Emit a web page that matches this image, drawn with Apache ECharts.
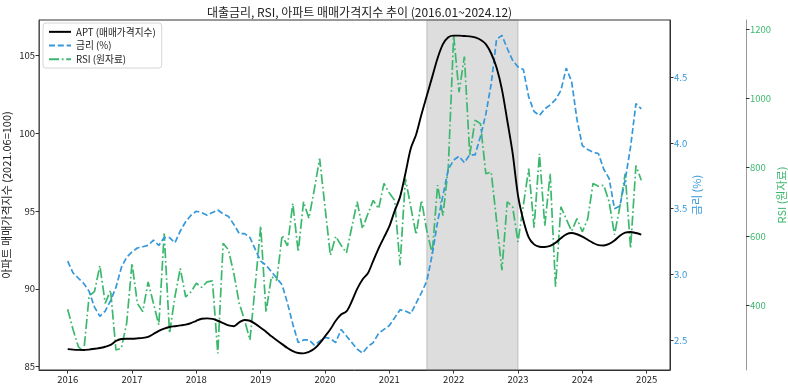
<!DOCTYPE html>
<html><head><meta charset="utf-8">
<script src="https://cdn.jsdelivr.net/npm/echarts@6/dist/echarts.min.js"></script>
<style>html,body{margin:0;padding:0;background:#fff}#c{width:788px;height:384px}</style>
</head><body><div id="c"></div>
<script>
// Monthly data 2016.01 ~ 2024.12
const startYear = 2016;
const apt = [86.13,86.1,86.08,86.07,86.1,86.15,86.2,86.28,86.4,86.65,86.78,86.8,
86.8,86.82,86.85,86.92,87.1,87.3,87.45,87.55,87.6,87.65,87.7,87.8,
87.95,88.08,88.1,88.07,87.95,87.8,87.65,87.6,87.85,88.0,87.95,87.75,
87.5,87.25,86.95,86.7,86.45,86.2,86.0,85.88,85.86,85.95,86.15,86.5,
86.95,87.4,87.95,88.35,88.55,89.2,90.0,90.6,91.0,91.8,92.6,93.3,
94.0,95.0,95.9,97.4,99.0,99.9,101.2,102.4,103.6,104.8,105.7,106.15,
106.25,106.25,106.22,106.2,106.13,105.98,105.7,105.1,104.2,102.8,100.8,98.7,
96.0,94.4,93.3,92.85,92.7,92.68,92.75,92.95,93.25,93.5,93.58,93.5,
93.35,93.15,92.95,92.8,92.78,92.88,93.1,93.4,93.6,93.65,93.58,93.48];
const rate = [3.10,3.01,2.97,2.93,2.87,2.75,2.68,2.72,2.80,2.90,3.05,3.13,
3.17,3.20,3.21,3.22,3.26,3.22,3.28,3.28,3.24,3.33,3.40,3.45,
3.48,3.47,3.45,3.47,3.49,3.46,3.44,3.38,3.31,3.31,3.28,3.19,
3.10,3.07,3.02,2.97,2.92,2.78,2.62,2.48,2.50,2.50,2.46,2.49,
2.52,2.51,2.48,2.58,2.53,2.48,2.43,2.40,2.45,2.48,2.55,2.58,
2.61,2.67,2.73,2.72,2.70,2.78,2.86,2.95,3.15,3.40,3.60,3.80,
3.87,3.90,3.85,3.91,3.91,4.05,4.22,4.45,4.79,4.82,4.72,4.63,
4.58,4.56,4.35,4.24,4.21,4.26,4.29,4.33,4.40,4.57,4.47,4.18,
3.98,3.95,3.93,3.92,3.80,3.73,3.50,3.52,3.72,3.97,4.30,4.26];
const rsi = [389,330,280,266,428,440,515,406,444,271,276,348,
522,406,382,468,406,343,608,319,425,507,425,439,
464,452,468,471,261,580,560,492,406,357,300,460,
630,380,483,473,603,572,695,555,700,652,735,825,
685,545,600,574,552,627,700,622,665,704,680,753,
725,704,516,767,685,605,704,615,550,748,660,800,
1181,1017,1120,836,936,926,781,786,646,502,700,685,
584,690,796,625,839,630,781,454,685,650,615,651,
613,650,753,745,748,700,605,685,781,565,805,762];
const xTicks = [2016,2017,2018,2019,2020,2021,2022,2023,2024,2025];
const aptTicks = [85,90,95,100,105];
const rateTicks = [2.5,3.0,3.5,4.0,4.5];
const rsiTicks = [400,600,800,1000,1200];
const shadeRange = [2021 + 7/12, 2023];

const tOf = i => startYear + i / 12;
const pairs = arr => arr.map((v, i) => [tOf(i), v]);

const BLUE = '#3498db', GREEN = '#3cb86e';
const FONT = '"Noto Sans CJK KR", "Noto Sans", sans-serif';

const chart = echarts.init(document.getElementById('c'), null, {renderer: 'canvas'});
chart.setOption({
  animation: false,
  backgroundColor: '#fff',
  textStyle: {fontFamily: FONT},
  title: {
    text: '대출금리, RSI, 아파트 매매가격지수 추이 (2016.01~2024.12)',
    left: 354.5, textAlign: 'center', top: 1,
    textStyle: {fontSize: 12, fontWeight: 'normal', color: '#222', fontFamily: FONT}
  },
  legend: {
    left: 43, top: 23, orient: 'vertical',
    itemWidth: 22, itemHeight: 10, itemGap: 4,
    padding: [4, 6, 4, 5],
    backgroundColor: 'rgba(255,255,255,0.85)',
    borderColor: '#d6d6d6', borderWidth: 1, borderRadius: 3,
    itemStyle: {opacity: 0, borderWidth: 0},
    textStyle: {fontSize: 9.7, color: '#222', fontFamily: FONT},
    data: ['APT (매매가격지수)', '금리 (%)', 'RSI (원자료)']
  },
  grid: {
    left: 39, right: 118, top: 20, bottom: 14,
    outerBoundsMode: 'none', containLabel: false,
    show: true, borderColor: '#333', borderWidth: 1, backgroundColor: 'transparent'
  },
  xAxis: {
    type: 'value', min: 2015.554, max: 2025.363,
    splitLine: {show: false},
    axisLine: {show: true, lineStyle: {color: '#333'}},
    axisTick: {show: true, length: 3.5, customValues: xTicks, lineStyle: {color: '#333'}},
    axisLabel: {customValues: xTicks, fontSize: 9.5, color: '#222', margin: 5,
      formatter: v => String(Math.round(v))}
  },
  yAxis: [
    {
      type: 'value', position: 'left', min: 84.79, max: 107.25,
      name: '아파트 매매가격지수 (2021.06=100)', nameLocation: 'middle', nameRotate: 90, nameGap: 27,
      nameMoveOverlap: false,
      nameTextStyle: {fontSize: 11, color: '#222', fontFamily: FONT},
      splitLine: {show: false},
      axisLine: {show: true, lineStyle: {color: '#555'}},
      axisTick: {show: true, length: 3.5, customValues: aptTicks, lineStyle: {color: '#333'}},
      axisLabel: {customValues: aptTicks, fontSize: 9.5, color: '#222', margin: 4,
        formatter: v => String(v)}
    },
    {
      type: 'value', position: 'right', offset: 0, min: 2.271, max: 4.937,
      name: '금리 (%)', nameLocation: 'middle', nameRotate: 90, nameGap: 21,
      nameMoveOverlap: false,
      nameTextStyle: {fontSize: 11, color: BLUE, fontFamily: FONT},
      splitLine: {show: false},
      axisLine: {show: true, lineStyle: {color: '#333'}},
      axisTick: {show: true, length: 3.5, customValues: rateTicks, lineStyle: {color: '#333'}},
      axisLabel: {customValues: rateTicks, fontSize: 9.5, color: BLUE, margin: 4,
        formatter: v => v.toFixed(1)}
    },
    {
      type: 'value', position: 'right', offset: 76, min: 213, max: 1226,
      name: 'RSI (원자료)', nameLocation: 'middle', nameRotate: 90, nameGap: 30,
      nameMoveOverlap: false,
      nameTextStyle: {fontSize: 11, color: GREEN, fontFamily: FONT},
      splitLine: {show: false},
      axisLine: {show: true, lineStyle: {color: '#999'}},
      axisTick: {show: true, length: 3.5, customValues: rsiTicks, lineStyle: {color: '#333'}},
      axisLabel: {customValues: rsiTicks, fontSize: 9.5, color: GREEN, margin: 4,
        formatter: v => String(v)}
    }
  ],
  series: [
    {
      name: 'APT (매매가격지수)', type: 'line', yAxisIndex: 0, data: pairs(apt),
      symbol: 'none', smooth: 0.3, z: 5,
      lineStyle: {color: '#000', width: 1.9},
      itemStyle: {color: '#000'},
      markArea: {
        silent: true,
        itemStyle: {color: 'rgba(128,128,128,0.27)', borderColor: 'rgba(128,128,128,0.4)', borderWidth: 1},
        data: [[{xAxis: shadeRange[0]}, {xAxis: shadeRange[1]}]]
      }
    },
    {
      name: '금리 (%)', type: 'line', yAxisIndex: 1, data: pairs(rate),
      symbol: 'none', z: 4,
      lineStyle: {color: BLUE, width: 1.7, type: [6, 2.8]},
      itemStyle: {color: BLUE}
    },
    {
      name: 'RSI (원자료)', type: 'line', yAxisIndex: 2, data: pairs(rsi),
      symbol: 'none', z: 3,
      lineStyle: {color: GREEN, width: 1.7, type: [10, 2.8, 1.7, 2.8]},
      itemStyle: {color: GREEN}
    }
  ]
});
</script></body></html>
